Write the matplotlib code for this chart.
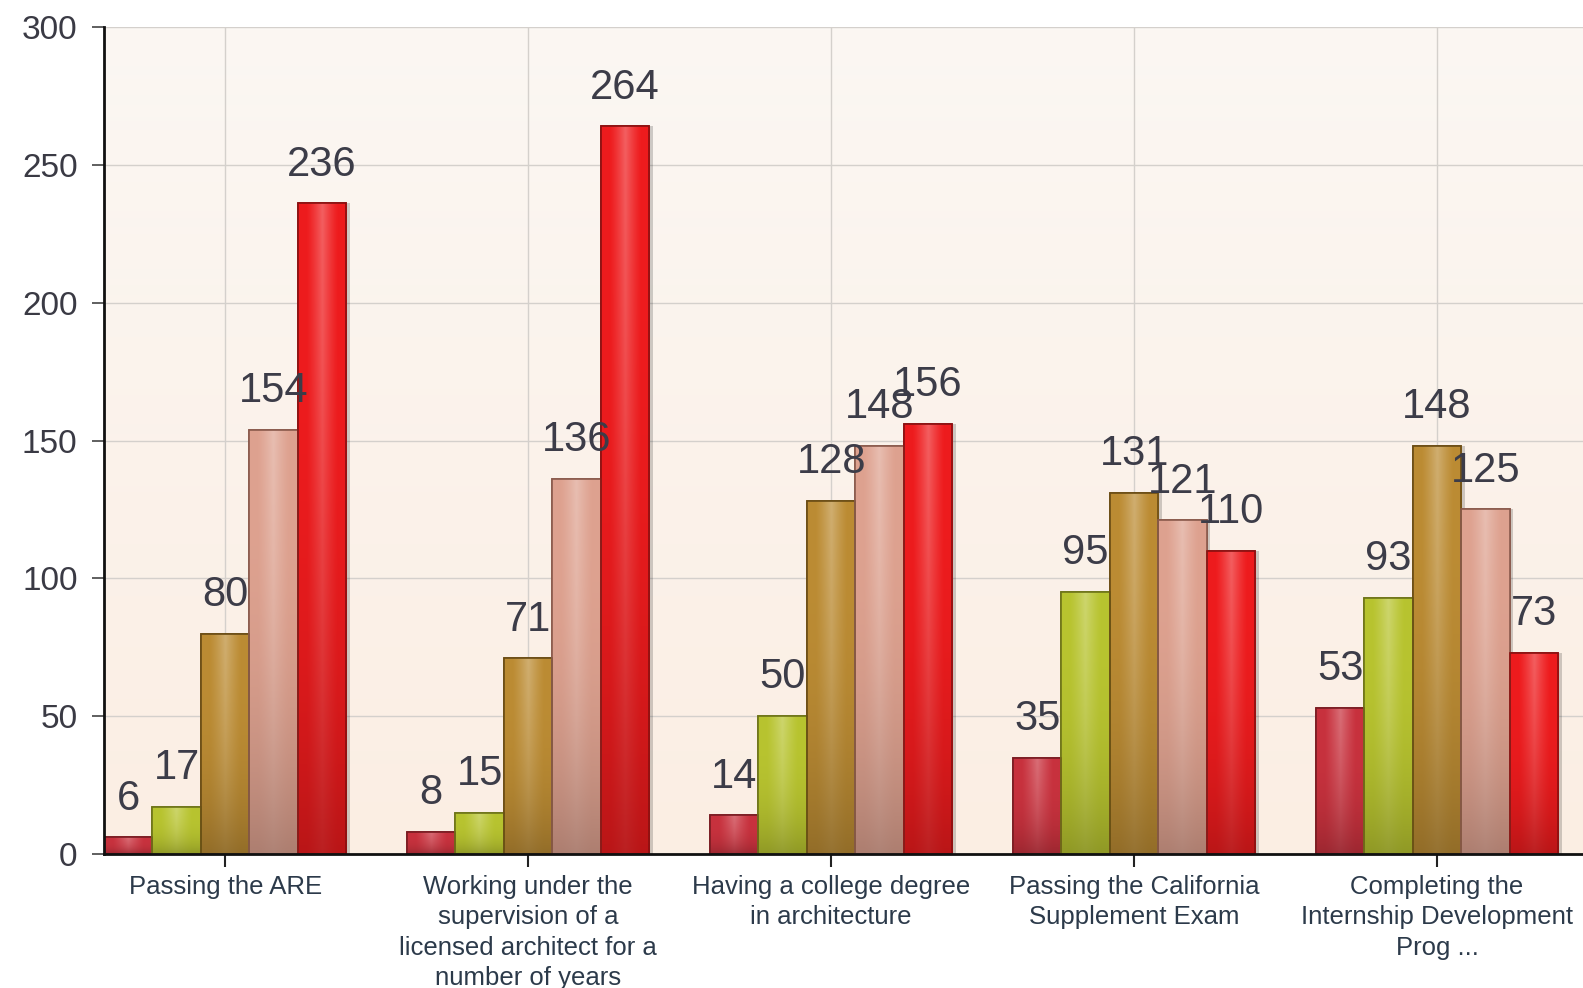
import numpy as np
import matplotlib
matplotlib.use("Agg")
import matplotlib.pyplot as plt
from matplotlib.colors import to_rgb

categories = [
    "Passing the ARE",
    "Working under the\nsupervision of a\nlicensed architect for a\nnumber of years",
    "Having a college degree\nin architecture",
    "Passing the California\nSupplement Exam",
    "Completing the\nInternship Development\nProg ...",
]
series_names = ["Series 1", "Series 2", "Series 3", "Series 4", "Series 5"]
s1 = [6, 8, 14, 35, 53]
s2 = [17, 15, 50, 95, 93]
s3 = [80, 71, 128, 131, 148]
s4 = [154, 136, 148, 121, 125]
s5 = [236, 264, 156, 110, 73]
series = [s1, s2, s3, s4, s5]
colors = ["#c8323e", "#b8c430", "#bc8c34", "#dea290", "#ee1c1e"]
edges = ["#7a1c22", "#6e7418", "#6a4c14", "#8a5a4c", "#8a1010"]
yticks = [0, 50, 100, 150, 200, 250, 300]

plt.rcParams['font.family'] = ['Liberation Sans', 'DejaVu Sans']

fig = plt.figure(figsize=(15.83, 9.88), dpi=100)
fig.patch.set_facecolor("white")
ax = fig.add_axes([0.0657, 0.1356, 0.934, 0.837])

# background gradient
bg = np.linspace(0, 1, 256).reshape(-1, 1)
top = np.array(to_rgb("#fbf7f3"))
bot = np.array(to_rgb("#fbeee3"))
bgimg = top[None, None, :] * (1 - bg[:, :, None]) + bot[None, None, :] * bg[:, :, None]
ax.imshow(bgimg, extent=[0, 1, 0, 1], transform=ax.transAxes, aspect="auto", zorder=0)

ax.set_xlim(-0.4, 4.48)
ax.set_ylim(0, 300)

x = np.arange(len(categories))
w = 0.16
for i, (vals, c, ec) in enumerate(zip(series, colors, edges)):
    xs = x + (i - 2) * w
    # shadow
    ax.bar(xs + 0.012, vals, width=w, color="black", alpha=0.18, zorder=2, linewidth=0)
    bars = ax.bar(xs, vals, width=w, color=c, edgecolor=ec, linewidth=1.2, zorder=3,
                  label=series_names[i])
    base = np.array(to_rgb(c))
    # gradient: lighter in middle horizontally, darker toward bottom
    hx = np.linspace(0, 1, 64)
    hy = np.linspace(0, 1, 128).reshape(-1, 1)
    light = np.clip(1 - np.abs(hx - 0.5) / 0.32, 0, 1) ** 1.2
    grad = np.zeros((128, 64, 3))
    for k in range(3):
        lighter = base[k] + (1 - base[k]) * 0.3 * light[None, :] * (1 - 0.8 * hy)
        grad[:, :, k] = lighter * (1 - 0.22 * hy ** 3)
    grad = np.clip(grad, 0, 1)
    for b, v in zip(bars, vals):
        im = ax.imshow(grad, extent=[b.get_x(), b.get_x() + w, 0, v], aspect="auto",
                       zorder=3.5, origin="upper")
        im.set_clip_path(b)
        ax.bar(b.get_x() + w / 2, v, width=w, facecolor="none", edgecolor=ec,
               linewidth=1.2, zorder=4)
    for xi, v in zip(xs, vals):
        ax.annotate(str(v), (xi, v), xytext=(0, 20), textcoords="offset points",
                    ha="center", va="baseline", fontsize=30, color="#3c3c48", zorder=6)

ax.set_xticks(x)
ax.set_xticklabels(categories, fontsize=18.5, color="#2c3a4a", linespacing=1.34)
ax.set_yticks(yticks)
ax.set_yticklabels([str(t) for t in yticks], fontsize=24, color="#3a3a44")
ax.tick_params(axis="x", length=9, width=1.5, color="#222222", pad=6)
ax.tick_params(axis="y", length=9, width=1.2, color="#444444", pad=10)

ax.grid(True, color="#d4d0cc", linewidth=1.0, zorder=1)
ax.set_axisbelow(True)
for s in ["top", "right"]:
    ax.spines[s].set_visible(False)
ax.spines["left"].set_linewidth(2)
ax.spines["bottom"].set_linewidth(2)
ax.spines["left"].set_color("#111111")
ax.spines["bottom"].set_color("#111111")
ax.spines["left"].set_zorder(5)
ax.spines["bottom"].set_zorder(5)

fig.savefig("out.png", dpi=100)
